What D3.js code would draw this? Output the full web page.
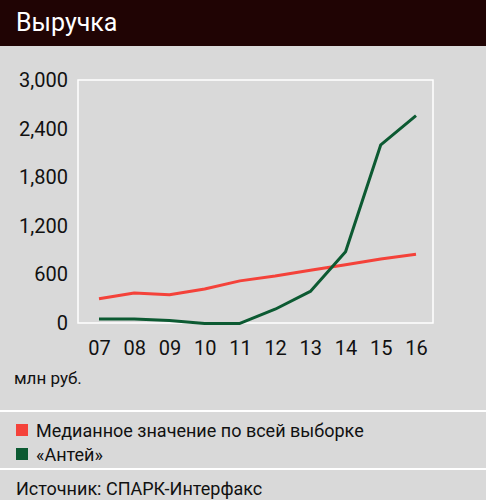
<!DOCTYPE html><html><head><meta charset="utf-8"><script src="https://d3js.org/d3.v7.min.js"></script>
<style>body{margin:0;background:#d9d9d9}svg{display:block}text{font-family:"Liberation Sans Narrow","Roboto","Arial Narrow",sans-serif}</style></head><body><svg id="c" width="486" height="500"></svg>
<script>
const years=["07","08","09","10","11","12","13","14","15","16"];
const median=[300,370,350,420,520,580,650,720,790,850];
const antey=[50,50,30,-5,-5,170,390,880,2200,2560];
const yTicks=[0,600,1200,1800,2400,3000];
const seriesNames=["Медианное значение по всей выборке","«Антей»"];
const colors=["#f4423a","#0c5a32"];
const svg=d3.select("#c");
const F="Liberation Sans Narrow";
svg.append("rect").attr("width",486).attr("height",500).attr("fill","#d9d9d9");
svg.append("rect").attr("width",486).attr("height",46).attr("fill","#200404");
svg.append("text").attr("x",16).attr("y",31).attr("fill","#fff").attr("font-size",25).attr("font-family",F).text("Выручка");
const x=d3.scalePoint().domain(years).range([99,416]);
const y=d3.scaleLinear().domain([0,3000]).range([323,80]);
svg.append("rect").attr("x",78).attr("y",80).attr("width",355).attr("height",243).attr("fill","none").attr("stroke","#fff").attr("stroke-width",1.5);
const ya=svg.append("g").attr("transform","translate(72,0)").call(d3.axisLeft(y).tickValues(yTicks).tickSize(0).tickPadding(4));
ya.select(".domain").remove();
ya.selectAll("text").attr("font-size",20).attr("fill","#111").attr("font-family",F);
const xa=svg.append("g").attr("transform","translate(0,323)").call(d3.axisBottom(x).tickSize(0).tickPadding(18));
xa.select(".domain").remove();
xa.selectAll("text").attr("font-size",20).attr("fill","#111").attr("font-family",F);
svg.append("text").attr("x",14).attr("y",384).attr("font-size",17).attr("fill","#111").attr("font-family",F).text("млн руб.");
const line=d3.line().x((d,i)=>x(years[i])).y(d=>y(d));
[median,antey].forEach((s,k)=>svg.append("path").attr("d",line(s)).attr("fill","none").attr("stroke",colors[k]).attr("stroke-width",3).attr("stroke-linejoin","round"));
[411,469].forEach(v=>svg.append("line").attr("x1",0).attr("x2",486).attr("y1",v).attr("y2",v).attr("stroke","#fff").attr("stroke-width",2));
seriesNames.forEach((n,k)=>{const yy=430+k*24;
svg.append("rect").attr("x",16).attr("y",yy-6).attr("width",12).attr("height",12).attr("fill",colors[k]);
svg.append("text").attr("x",36).attr("y",yy+7).attr("font-size",18).attr("fill","#111").attr("font-family",F).text(n);});
svg.append("text").attr("x",16).attr("y",495).attr("font-size",18).attr("fill","#111").attr("font-family",F).text("Источник: СПАРК-Интерфакс");
</script></body></html>
